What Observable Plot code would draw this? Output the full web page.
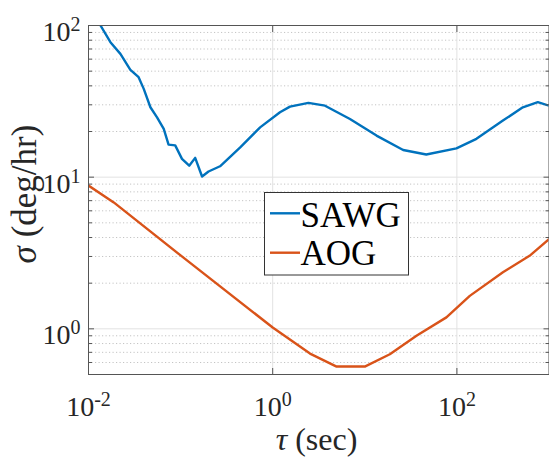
<!DOCTYPE html>
<html><head><meta charset="utf-8">
<script src="https://cdn.jsdelivr.net/npm/d3@7"></script>
<script src="https://cdn.jsdelivr.net/npm/@observablehq/plot@0.6"></script>
<style>
html,body{margin:0;padding:0;background:#fff;}
#chart{width:549px;height:457px;}
</style>
</head><body>
<div id="chart"></div>
<script>
const seriesNames = ["SAWG", "AOG"];
const seriesColors = ["#0072BD", "#D95319"];

const sawgTau = [0.0135, 0.0173, 0.0222, 0.0285, 0.035, 0.0398, 0.047, 0.0555, 0.0656, 0.074, 0.0874, 0.1035, 0.124, 0.144, 0.171, 0.201, 0.268, 0.444, 0.73, 1.2, 1.54, 2.44, 3.7, 6.9, 13.4, 26.1, 46.5, 98.8, 163, 316, 520, 756, 1000];
const sawgSigma = [100, 77.6, 65, 51, 45.6, 38.2, 28.9, 24.8, 20.8, 16.4, 16.2, 13.2, 11.9, 13.4, 10.1, 10.9, 11.8, 15.7, 21.3, 26.8, 29.2, 30.9, 29.6, 24.2, 18.8, 15.1, 14.1, 15.5, 17.9, 23.6, 28.9, 31.2, 29.6];

const aogTau = [0.01, 0.0188, 0.1, 1, 2.54, 4.94, 10, 18.7, 36.4, 76.9, 138, 316, 615, 1000];
const aogSigma = [8.8, 6.82, 3.05, 1.02, 0.687, 0.564, 0.564, 0.68, 0.90, 1.19, 1.65, 2.36, 3.03, 3.9];

const xTickValues = [0.01, 1, 100];
const xTickLabels = ["10^-2", "10^0", "10^2"];
const yTickValues = [1, 10, 100];
const yTickLabels = ["10^0", "10^1", "10^2"];
const yMinorValues = [0.5, 0.6, 0.7, 0.8, 0.9, 2, 3, 4, 5, 6, 7, 8, 9, 20, 30, 40, 50, 60, 70, 80, 90];

const xLabel = ["τ", " (sec)"];
const yLabel = ["σ", " (deg/hr)"];

const data = [
  ...sawgTau.map((t, i) => ({series: seriesNames[0], tau: t, sigma: sawgSigma[i]})),
  ...aogTau.map((t, i) => ({series: seriesNames[1], tau: t, sigma: aogSigma[i]}))
];

const axisColor = "#555";
const textColor = "#262626";
const font = "Liberation Serif";

const chart = Plot.plot({
  width: 549,
  height: 457,
  marginLeft: 88,
  marginRight: 0.5,
  marginTop: 25,
  marginBottom: 83,
  style: {background: "#fff", overflow: "visible"},
  x: {type: "log", domain: [0.01, 1000]},
  y: {type: "log", domain: [0.5, 100]},
  color: {domain: seriesNames, range: seriesColors},
  marks: [
    Plot.ruleY(yMinorValues, {stroke: "#c4c4c4", strokeDasharray: "1.2,2.3"}),
    Plot.ruleY(yTickValues, {stroke: "#e2e2e2"}),
    Plot.ruleX(xTickValues, {stroke: "#e2e2e2"}),
    Plot.line(data, {x: "tau", y: "sigma", z: "series", stroke: "series", strokeWidth: 2.4, clip: true}),
    Plot.axisY({anchor: "left", ticks: yTickValues, tickSize: -6, tickFormat: () => "", label: null, stroke: axisColor}),
    Plot.axisY({anchor: "left", ticks: yMinorValues, tickSize: -4, tickFormat: () => "", label: null, stroke: axisColor}),
    Plot.axisY({anchor: "right", ticks: yTickValues, tickSize: -6, tickFormat: () => "", label: null, stroke: axisColor}),
    Plot.axisY({anchor: "right", ticks: yMinorValues, tickSize: -4, tickFormat: () => "", label: null, stroke: axisColor}),
    Plot.axisX({anchor: "bottom", ticks: xTickValues, tickSize: -6, tickFormat: () => "", label: null, stroke: axisColor}),
    Plot.axisX({anchor: "top", ticks: xTickValues, tickSize: -6, tickFormat: () => "", label: null, stroke: axisColor}),
    Plot.frame({stroke: axisColor}),
    Plot.text(xTickValues, {x: d => d, text: (d, i) => xTickLabels[i], frameAnchor: "bottom", lineAnchor: "bottom", dy: 41.5, textAnchor: "middle", fontSize: 28, fontFamily: font, fill: textColor}),
    Plot.text(yTickValues, {y: d => d, text: (d, i) => yTickLabels[i], frameAnchor: "left", lineAnchor: "bottom", dx: -8, dy: 15.5, textAnchor: "end", fontSize: 28, fontFamily: font, fill: textColor})
  ]
});

document.getElementById("chart").appendChild(chart);
const svg = d3.select(chart);

// superscripts in tick labels
svg.selectAll("text").each(function () {
  const s = this.textContent;
  if (!/^10\^/.test(s)) return;
  const [base, exp] = s.split("^");
  const t = d3.select(this);
  t.text(null);
  t.append("tspan").text(base);
  t.append("tspan").attr("dy", -10).attr("font-size", 20).text(exp);
});

// axis labels
const xl = svg.append("text").attr("x", 316.5).attr("y", 450).attr("text-anchor", "middle")
  .attr("font-size", 32).attr("fill", textColor).attr("font-family", font);
xl.append("tspan").attr("font-style", "italic").text(xLabel[0]);
xl.append("tspan").text(xLabel[1]);

const yl = svg.append("text").attr("transform", "translate(36,194) rotate(-90)").attr("text-anchor", "middle")
  .attr("font-size", 35).attr("fill", textColor).attr("font-family", font);
yl.append("tspan").attr("font-style", "italic").text(yLabel[0]);
yl.append("tspan").text(yLabel[1]);

// legend
const lg = svg.append("g").attr("font-family", font).attr("text-anchor", "start");
lg.append("rect").attr("x", 264.5).attr("y", 192.5).attr("width", 144).attr("height", 82.5)
  .attr("fill", "#fff").attr("stroke", "#333").attr("stroke-width", 1);
const rowY = [213.3, 252.7];
const rowBase = [226.7, 265];
seriesNames.forEach((name, i) => {
  lg.append("line").attr("x1", 270).attr("x2", 300).attr("y1", rowY[i]).attr("y2", rowY[i])
    .attr("stroke", seriesColors[i]).attr("stroke-width", 2.4);
  lg.append("text").attr("x", 300.5).attr("y", rowBase[i]).attr("font-size", 35).attr("fill", "#000").text(name);
});
</script>
</body></html>
